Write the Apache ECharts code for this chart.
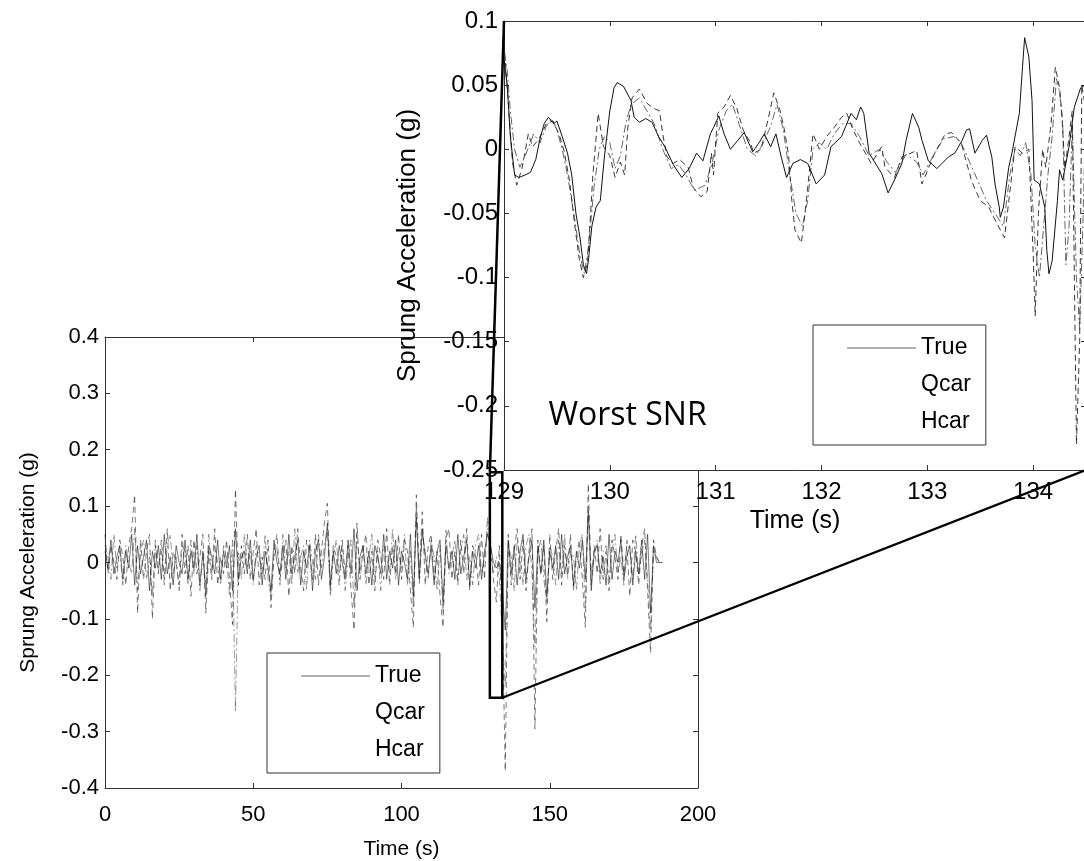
<!DOCTYPE html>
<html>
<head>
<meta charset="utf-8">
<script src="https://cdn.jsdelivr.net/npm/echarts@6/dist/echarts.min.js"></script>
<style>
html,body{margin:0;padding:0;background:#fff;}
#chart{width:1084px;height:861px;}
</style>
</head>
<body>
<div id="chart"></div>
<script>
// ---------------- DATA ----------------
const seriesNames = ['True', 'Qcar', 'Hcar'];
const mainStep = 1; // seconds between samples of the full record
const mainTrue = [
 0.02,-0.01,0.04,-0.02,0.01,0.03,-0.03,0.02,-0.01,0.05,
 -0.04,0.03,-0.02,0.01,0.04,-0.05,0.02,-0.01,0.03,-0.03,
 0.05,-0.02,0.01,-0.04,0.03,0.00,-0.02,0.04,-0.03,0.02,
 -0.01,0.05,-0.04,0.02,-0.06,0.03,0.01,-0.02,0.04,-0.03,
 0.02,-0.01,0.03,-0.05,0.06,-0.03,0.01,0.02,-0.02,0.04,
 -0.03,0.01,0.03,-0.04,0.02,-0.01,-0.05,0.04,0.00,-0.02,
 0.03,-0.03,0.05,-0.02,0.01,0.04,-0.04,0.02,-0.01,0.03,
 -0.05,0.02,0.04,-0.03,0.01,0.07,-0.04,0.02,-0.02,0.03,
 0.00,-0.03,0.04,-0.02,0.06,-0.05,0.01,0.03,-0.02,0.02,
 -0.04,0.03,0.01,-0.02,0.05,-0.03,0.02,-0.01,0.04,-0.04,
 0.02,0.00,-0.03,0.05,-0.06,0.08,-0.03,0.06,0.01,-0.02,
 0.03,-0.04,0.02,0.04,-0.07,0.03,-0.01,0.02,-0.03,0.05,
 -0.02,0.01,0.04,-0.04,0.02,-0.01,0.03,-0.03,0.02,0.05,
 0.03,0.00,-0.01,0.00,-0.05,-0.12,0.04,-0.02,0.03,-0.04,
 0.02,0.05,-0.03,0.01,0.04,-0.08,0.03,-0.02,0.04,-0.06,
 0.02,-0.01,0.03,-0.03,0.05,-0.02,0.01,0.03,-0.04,0.02,
 -0.01,0.04,-0.03,0.09,-0.05,0.02,0.03,-0.02,0.01,-0.04,
 0.05,-0.03,0.02,0.00,0.04,-0.03,0.01,0.03,-0.04,0.02,
 -0.02,0.04,-0.03,0.05,-0.09,0.03,0.00,0.00,0.00
];
const mainQcar = [
 0.05,-0.02,0.03,0.00,-0.03,0.04,0.01,-0.04,0.03,0.06,
 0.12,-0.09,0.04,-0.03,0.02,0.05,-0.10,0.03,-0.02,0.04,
 -0.03,0.06,-0.05,0.02,0.00,-0.04,0.05,-0.02,0.03,-0.06,
 0.04,-0.02,0.01,0.05,-0.09,0.02,-0.03,0.06,-0.04,0.01,
 -0.02,0.04,-0.03,-0.11,0.13,-0.04,0.03,-0.02,0.05,-0.03,
 0.02,0.06,-0.04,0.01,-0.03,0.04,-0.08,0.02,0.05,-0.03,
 0.01,0.04,-0.06,0.03,-0.02,0.06,-0.01,-0.05,0.04,0.02,
 -0.03,0.05,-0.04,0.02,0.07,0.105,-0.05,0.03,0.01,-0.04,
 0.04,-0.02,0.03,-0.05,-0.12,0.07,-0.03,0.02,0.05,-0.04,
 0.02,-0.05,0.04,0.01,-0.03,0.06,-0.04,0.03,-0.02,0.05,
 -0.03,0.04,0.02,-0.05,-0.115,0.12,-0.02,0.09,-0.04,0.03,
 0.05,-0.03,0.02,-0.06,-0.115,0.04,0.06,-0.03,0.02,-0.04,
 0.04,-0.02,0.06,-0.05,0.03,0.01,-0.04,0.05,-0.03,0.08,
 0.04,-0.03,-0.07,0.03,-0.10,-0.37,0.05,-0.04,0.02,0.06,
 -0.03,0.04,-0.05,0.02,0.06,-0.295,0.04,-0.02,0.03,-0.105,
 0.05,-0.03,0.02,0.06,-0.04,0.03,-0.02,0.05,-0.05,0.01,
 0.04,-0.03,-0.115,0.14,-0.04,0.03,-0.02,0.06,-0.03,0.02,
 -0.05,0.04,0.01,-0.03,0.05,-0.02,0.03,-0.06,0.04,0.02,
 -0.04,0.03,0.06,-0.05,-0.16,0.04,0.01,0.00,0.00
];
const mainHcar = [
 0.03,0.01,-0.03,0.05,-0.01,0.02,-0.04,0.03,0.00,-0.02,
 0.06,-0.05,0.02,0.04,-0.03,0.01,-0.06,0.04,-0.01,0.02,
 -0.04,0.03,0.05,-0.02,0.01,-0.05,0.03,0.02,-0.04,0.04,
 -0.02,0.03,-0.05,0.01,-0.04,0.05,-0.02,0.03,0.00,-0.04,
 0.03,0.01,-0.06,0.04,-0.265,0.02,-0.03,0.05,-0.01,0.02,
 -0.04,0.03,0.01,-0.02,0.05,-0.03,-0.06,0.01,0.03,-0.04,
 0.05,-0.01,0.02,-0.04,0.06,-0.02,0.01,0.03,-0.05,0.04,
 0.00,-0.03,0.05,-0.01,0.03,0.06,-0.06,0.01,0.04,-0.02,
 0.03,-0.05,0.01,0.04,-0.08,0.05,-0.02,0.03,-0.04,0.01,
 0.05,-0.03,0.02,-0.05,0.03,0.01,-0.02,0.06,-0.03,0.02,
 -0.01,0.05,-0.04,0.02,-0.08,0.10,-0.04,0.05,0.02,-0.03,
 0.04,0.01,-0.05,0.03,-0.09,0.06,-0.02,0.01,0.04,-0.03,
 0.02,0.05,-0.03,0.01,-0.04,0.03,0.05,-0.02,0.01,0.06,
 0.02,-0.02,0.01,-0.03,-0.13,-0.22,0.03,0.01,-0.05,0.04,
 0.01,-0.04,0.03,0.05,-0.02,-0.15,0.02,0.04,-0.03,-0.07,
 0.03,0.01,-0.04,0.04,-0.02,0.05,-0.03,0.02,0.01,-0.05,
 0.03,0.05,-0.08,0.10,-0.02,0.01,0.04,-0.04,0.02,0.03,
 -0.03,0.02,0.05,-0.02,0.01,-0.04,0.04,0.02,-0.03,0.05,
 -0.02,0.01,0.04,-0.03,-0.12,0.02,0.01,0.00,0.00
];

// zoomed window (time s, acceleration g)
const insetTrue = [
 [129.00,0.07],[129.03,0.05],[129.06,0.01],[129.10,-0.02],[129.14,-0.022],[129.20,-0.02],[129.25,-0.018],
 [129.30,-0.008],[129.34,0.008],[129.38,0.02],[129.42,0.025],[129.47,0.02],[129.50,0.022],[129.55,0.01],
 [129.60,-0.003],[129.64,-0.02],[129.68,-0.05],[129.72,-0.07],[129.75,-0.09],[129.78,-0.097],[129.80,-0.085],
 [129.83,-0.06],[129.87,-0.045],[129.91,-0.04],[129.95,-0.005],[130.00,0.03],[130.04,0.048],[130.07,0.052],
 [130.13,0.049],[130.20,0.038],[130.23,0.025],[130.28,0.021],[130.34,0.024],[130.40,0.021],[130.46,0.01],
 [130.52,0.002],[130.60,-0.012],[130.68,-0.022],[130.75,-0.015],[130.82,-0.003],[130.88,-0.009],[130.95,0.012],
 [130.98,0.017],[131.03,0.026],[131.08,0.012],[131.14,0.0],[131.21,0.007],[131.27,0.013],[131.35,-0.002],
 [131.41,0.005],[131.46,0.012],[131.52,0.002],[131.57,0.012],[131.62,-0.006],[131.67,-0.022],[131.73,-0.011],
 [131.80,-0.008],[131.87,-0.011],[131.95,-0.027],[132.03,-0.02],[132.09,0.002],[132.19,0.01],[132.28,0.028],
 [132.33,0.023],[132.37,0.033],[132.40,0.028],[132.45,-0.003],[132.57,-0.019],[132.63,-0.034],[132.69,-0.024],
 [132.76,-0.011],[132.80,0.007],[132.86,0.028],[132.92,0.017],[132.95,0.007],[133.01,-0.009],[133.09,-0.015],
 [133.14,-0.011],[133.20,-0.006],[133.26,-0.003],[133.33,0.007],[133.37,0.015],[133.40,0.016],[133.45,-0.003],
 [133.52,0.007],[133.56,0.011],[133.61,-0.006],[133.64,-0.027],[133.68,-0.045],[133.69,-0.053],[133.72,-0.045],
 [133.77,-0.014],[133.80,-0.003],[133.87,0.028],[133.90,0.064],[133.92,0.087],[133.96,0.072],[133.99,0.038],
 [134.01,-0.024],[134.06,-0.027],[134.11,-0.045],[134.13,-0.079],[134.15,-0.097],[134.18,-0.087],[134.23,-0.04],
 [134.25,-0.016],[134.28,-0.024],[134.34,0.002],[134.39,0.033],[134.45,0.048],[134.48,0.05],[134.50,0.042]
];
const insetQcar = [
 [129.00,0.083],[129.02,0.06],[129.05,0.025],[129.08,-0.01],[129.12,-0.028],[129.17,-0.015],[129.23,0.012],
 [129.27,0.002],[129.33,0.008],[129.40,0.02],[129.46,0.022],[129.52,0.012],[129.57,-0.002],[129.62,-0.025],
 [129.67,-0.06],[129.71,-0.085],[129.75,-0.1],[129.79,-0.088],[129.84,-0.02],[129.89,0.028],[129.94,0.002],
 [130.00,-0.005],[130.05,-0.022],[130.10,-0.01],[130.14,-0.02],[130.17,0.017],[130.21,0.04],[130.28,0.047],
 [130.35,0.036],[130.41,0.032],[130.47,0.03],[130.50,0.012],[130.54,-0.006],[130.60,-0.011],[130.66,-0.008],
 [130.74,-0.014],[130.79,-0.03],[130.86,-0.037],[130.92,-0.033],[130.96,-0.003],[130.98,-0.02],[131.02,0.028],
 [131.08,0.033],[131.14,0.042],[131.20,0.032],[131.26,0.015],[131.33,0.005],[131.36,-0.003],[131.43,0.0],
 [131.50,0.025],[131.55,0.044],[131.61,0.03],[131.65,0.015],[131.69,-0.005],[131.72,-0.04],[131.75,-0.063],
 [131.81,-0.073],[131.84,-0.053],[131.87,-0.03],[131.92,0.012],[131.98,0.0],[132.05,0.01],[132.12,0.017],
 [132.19,0.025],[132.24,0.028],[132.30,0.015],[132.36,0.005],[132.47,-0.011],[132.57,0.002],[132.60,-0.014],
 [132.69,-0.022],[132.76,-0.006],[132.90,-0.001],[132.95,-0.027],[133.07,-0.003],[133.17,0.012],[133.23,0.013],
 [133.32,0.005],[133.42,-0.025],[133.50,-0.04],[133.58,-0.045],[133.64,-0.055],[133.73,-0.069],[133.83,0.002],
 [133.90,-0.003],[133.96,0.0],[134.00,-0.08],[134.02,-0.13],[134.05,-0.05],[134.09,0.0],[134.12,-0.014],
 [134.17,0.02],[134.21,0.064],[134.25,0.048],[134.27,0.03],[134.30,-0.015],[134.34,0.01],[134.37,0.03],
 [134.39,-0.1],[134.41,-0.23],[134.44,-0.15],[134.46,0.05],[134.50,0.03]
];
const insetHcar = [
 [129.00,0.075],[129.03,0.062],[129.06,0.03],[129.10,0.0],[129.15,-0.014],[129.20,-0.005],[129.25,0.005],
 [129.28,0.012],[129.34,0.005],[129.40,0.018],[129.45,0.024],[129.50,0.015],[129.55,0.0],[129.60,-0.02],
 [129.66,-0.05],[129.72,-0.084],[129.76,-0.097],[129.80,-0.075],[129.85,-0.03],[129.90,0.0],[129.95,0.01],
 [130.00,0.005],[130.05,-0.015],[130.10,-0.005],[130.15,0.02],[130.20,0.035],[130.28,0.04],[130.35,0.03],
 [130.42,0.02],[130.50,0.0],[130.58,-0.015],[130.65,-0.012],[130.72,-0.02],[130.80,-0.032],[130.90,-0.028],
 [130.97,-0.01],[131.03,0.015],[131.10,0.03],[131.16,0.035],[131.22,0.02],[131.30,0.0],[131.38,-0.005],
 [131.45,0.005],[131.52,0.018],[131.58,0.035],[131.64,0.015],[131.70,-0.02],[131.76,-0.05],[131.82,-0.06],
 [131.87,-0.04],[131.92,0.0],[131.98,0.005],[132.05,0.0],[132.12,0.012],[132.20,0.02],[132.28,0.02],
 [132.36,0.01],[132.45,-0.005],[132.55,0.0],[132.62,-0.01],[132.70,-0.018],[132.80,-0.004],[132.90,-0.01],
 [132.96,-0.02],[133.05,-0.006],[133.15,0.008],[133.25,0.01],[133.32,0.005],[133.40,-0.01],[133.48,-0.025],
 [133.56,-0.04],[133.64,-0.05],[133.72,-0.06],[133.78,-0.02],[133.83,0.0],[133.88,-0.005],[133.93,0.005],
 [133.98,-0.02],[134.02,-0.075],[134.06,-0.1],[134.10,-0.06],[134.14,-0.02],[134.18,0.01],[134.22,0.055],
 [134.25,0.045],[134.28,0.02],[134.31,-0.09],[134.34,-0.06],[134.37,0.02],[134.41,-0.1],[134.44,-0.14],
 [134.47,-0.06],[134.50,0.04]
];

// axis ranges / ticks
const mainX = {min: 0, max: 200, interval: 50};
const mainY = {min: -0.4, max: 0.4, interval: 0.1};
const insetX = {min: 129, max: 134.5, interval: 1};
const insetY = {min: -0.25, max: 0.1, interval: 0.05};
const xName = 'Time (s)';
const yName = 'Sprung Acceleration (g)';
const annotation = 'Worst SNR';
// zoom-box annotation drawn on the full record (time s, g)
const zoomBoxT = [129.8, 134.0];
const zoomBoxV = [-0.24, 0.16];
const annotationAt = [129.42, -0.208];

// ---------------- CHART ----------------
const FONT = '"Liberation Sans", Arial, Helvetica, sans-serif';
const AX = '#333';
const chart = echarts.init(document.getElementById('chart'), null, {renderer: 'canvas'});

function toPairs(vals) { return vals.map((v, i) => [i * mainStep, v]); }

function xAxisCfg(grid, r, pos, withLabels, nameGap, margin, tickFs, nameFs, z) {
  return {
    type: 'value', gridIndex: grid, position: pos, min: r.min, max: r.max, interval: r.interval,
    z: z,
    name: withLabels ? xName : '', nameLocation: 'middle', nameGap: nameGap,
    nameTextStyle: {fontFamily: FONT, fontSize: nameFs, color: '#000'},
    axisLine: {show: true, onZero: false, lineStyle: {color: AX, width: 1}},
    axisTick: {show: true, inside: true, length: 5, lineStyle: {color: AX}},
    axisLabel: {show: withLabels, fontFamily: FONT, fontSize: tickFs, color: '#000', margin: margin,
                showMaxLabel: r.max % r.interval === 0},
    splitLine: {show: false}
  };
}
function yAxisCfg(grid, r, pos, withLabels, nameGap, tickFs, nameFs, z) {
  return {
    type: 'value', gridIndex: grid, position: pos, min: r.min, max: r.max, interval: r.interval,
    z: z,
    name: withLabels ? yName : '', nameLocation: 'middle', nameGap: nameGap, nameRotate: 90,
    nameTextStyle: {fontFamily: FONT, fontSize: nameFs, color: '#000'},
    axisLine: {show: true, onZero: false, lineStyle: {color: AX, width: 1}},
    axisTick: {show: true, inside: true, length: 5, lineStyle: {color: AX}},
    axisLabel: {show: withLabels, fontFamily: FONT, fontSize: tickFs, color: '#000', margin: 6},
    splitLine: {show: false}
  };
}

const styles = {
  True: {color: '#111', width: 1, type: 'solid'},
  Qcar: {color: '#222', width: 1, type: [6, 4]},
  Hcar: {color: '#555', width: 1, type: [8, 3, 2, 3]}
};

function lineSeries(name, data, xi, yi, z, opacity, width) {
  return {
    name: name, type: 'line', xAxisIndex: xi, yAxisIndex: yi, data: data,
    symbol: 'none', showSymbol: false, animation: false, clip: true, z: z,
    lineStyle: Object.assign({}, styles[name], {opacity: opacity, width: width})
  };
}

const legendData = [
  {name: 'True', icon: 'rect', itemStyle: {color: '#666', opacity: 1}},
  {name: 'Qcar', icon: 'rect', itemStyle: {opacity: 0}},
  {name: 'Hcar', icon: 'rect', itemStyle: {opacity: 0}}
];
function legendCfg(left, top) {
  return {
    orient: 'vertical', left: left, top: top, padding: [10, 15, 10, 34],
    itemWidth: 69, itemHeight: 1, itemGap: 11,
    backgroundColor: '#fff', borderColor: '#333', borderWidth: 1, borderRadius: 0,
    textStyle: {fontFamily: FONT, fontSize: 23, lineHeight: 26, color: '#000'},
    data: legendData, selectedMode: false, z: 20
  };
}

const option = {
  animation: false,
  backgroundColor: '#fff',
  grid: [
    {left: 105, top: 337, width: 593, height: 451, containLabel: false, outerBoundsMode: 'none',
     show: false, z: 0},
    {left: 504, top: 21, width: 582, height: 449, containLabel: false, outerBoundsMode: 'none',
     show: true, backgroundColor: '#fff', borderWidth: 0, z: 10}
  ],
  xAxis: [
    xAxisCfg(0, mainX, 'bottom', true, 51, 16, 22, 21, 1),
    xAxisCfg(0, mainX, 'top', false, 0, 8, 22, 21, 1),
    xAxisCfg(1, insetX, 'bottom', true, 34, 10, 24, 25, 12),
    xAxisCfg(1, insetX, 'top', false, 0, 8, 24, 25, 12)
  ],
  yAxis: [
    yAxisCfg(0, mainY, 'left', true, 66, 22, 21, 1),
    yAxisCfg(0, mainY, 'right', false, 0, 22, 21, 1),
    yAxisCfg(1, insetY, 'left', true, 83, 24, 26, 12),
    yAxisCfg(1, insetY, 'right', false, 0, 24, 26, 12)
  ],
  legend: [legendCfg(813, 325), legendCfg(267, 653)],
  series: [
    lineSeries('Hcar', toPairs(mainHcar), 0, 0, 2, 0.75, 0.8),
    lineSeries('Qcar', toPairs(mainQcar), 0, 0, 2, 0.75, 0.8),
    lineSeries('True', toPairs(mainTrue), 0, 0, 3, 0.7, 0.8),
    lineSeries('Hcar', insetHcar, 2, 2, 11, 0.9, 1),
    lineSeries('Qcar', insetQcar, 2, 2, 11, 0.9, 1),
    lineSeries('True', insetTrue, 2, 2, 12, 1, 1)
  ]
};
chart.setOption(option);

// annotation drawn via the library's coordinate conversion
const toMain = pt => chart.convertToPixel({xAxisIndex: 0, yAxisIndex: 0}, pt);
const toInset = pt => chart.convertToPixel({xAxisIndex: 2, yAxisIndex: 2}, pt);
const bTL = toMain([zoomBoxT[0], zoomBoxV[1]]);
const bTR = toMain([zoomBoxT[1], zoomBoxV[1]]);
const bBL = toMain([zoomBoxT[0], zoomBoxV[0]]);
const bBR = toMain([zoomBoxT[1], zoomBoxV[0]]);
const iTL = toInset([insetX.min, insetY.max]);
const iBR = toInset([insetX.max, insetY.min]);
const iTextPos = toInset(annotationAt);

chart.setOption({
  graphic: [
    {type: 'polyline', z: 30, shape: {points: [bTL, bTR, bBR, bBL, bTL]},
     style: {stroke: '#000', lineWidth: 2.5, fill: null}},
    {type: 'line', z: 30, shape: {x1: bTL[0], y1: bTL[1], x2: iTL[0], y2: iTL[1]},
     style: {stroke: '#000', lineWidth: 2.5}},
    {type: 'line', z: 30, shape: {x1: bBR[0], y1: bBR[1], x2: iBR[0], y2: iBR[1]},
     style: {stroke: '#000', lineWidth: 2.2}},
    {type: 'text', z: 30, x: iTextPos[0], y: iTextPos[1],
     style: {text: annotation, fontFamily: '"Open Sans", "Noto Sans", sans-serif', fontSize: 32,
             fill: '#000', align: 'left', verticalAlign: 'middle'}}
  ]
});
</script>
</body>
</html>
